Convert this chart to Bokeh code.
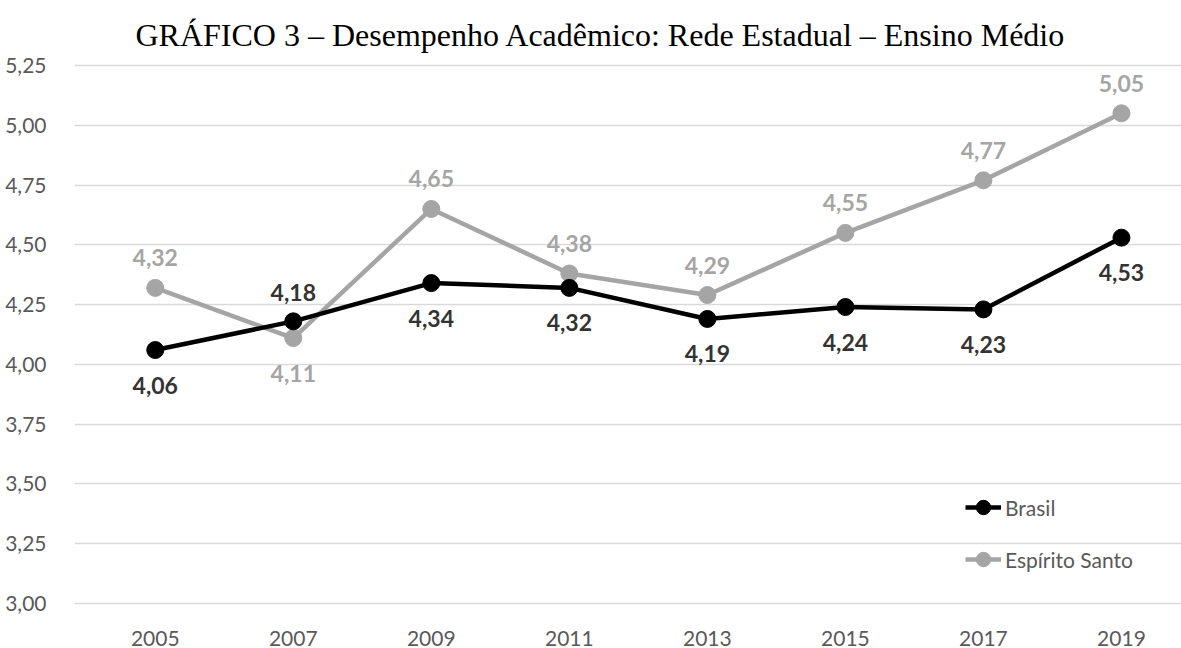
from bokeh.plotting import figure
from bokeh.models import FixedTicker, Range1d, ColumnDataSource, Legend, LegendItem
from bokeh.core.properties import value
from bokeh.embed import file_html
from bokeh.resources import INLINE

years = [2005, 2007, 2009, 2011, 2013, 2015, 2017, 2019]
brasil = [4.06, 4.18, 4.34, 4.32, 4.19, 4.24, 4.23, 4.53]
espirito_santo = [4.32, 4.11, 4.65, 4.38, 4.29, 4.55, 4.77, 5.05]
brasil_label_side = ["below", "above", "below", "below", "below", "below", "below", "below"]
es_label_side = ["above", "below", "above", "above", "above", "above", "above", "above"]
y_ticks = [3.00, 3.25, 3.50, 3.75, 4.00, 4.25, 4.50, 4.75, 5.00, 5.25]
title_text = "GRÁFICO 3 – Desempenho Acadêmico: Rede Estadual – Ensino Médio"

BLACK = "#000000"
GRAY = "#a5a5a5"
TEXT = "#595959"
FONT = "Lato"

def fmt(v):
    return f"{v:.2f}".replace(".", ",")

p = figure(width=1181, height=648, output_backend="svg", toolbar_location=None,
           x_range=Range1d(2003.83, 2019.87), y_range=Range1d(2.979, 5.271),
           min_border_left=74, min_border_right=0, min_border_top=60, min_border_bottom=40)

p.title.text = title_text
p.title.text_font = "Liberation Serif"
p.title.text_font_size = "32px"
p.title.text_font_style = "normal"
p.title.text_color = "#000000"
p.title.align = "left"
p.title.offset = 61
p.title.standoff = 16

p.outline_line_color = None
p.background_fill_color = "white"

p.xgrid.grid_line_color = None
p.ygrid.grid_line_color = "#d9d9d9"
p.ygrid.grid_line_width = 1.3
p.ygrid.ticker = FixedTicker(ticks=y_ticks)

p.yaxis.ticker = FixedTicker(ticks=y_ticks)
p.yaxis.major_label_overrides = {t: fmt(t) for t in y_ticks}
p.xaxis.ticker = FixedTicker(ticks=years)
p.xaxis.major_label_overrides = {y: str(y) for y in years}
for ax in (p.xaxis, p.yaxis):
    ax.axis_line_color = None
    ax.major_tick_line_color = None
    ax.minor_tick_line_color = None
    ax.major_label_text_font = FONT
    ax.major_label_text_font_size = "21px"
    ax.major_label_text_color = TEXT
p.yaxis.major_label_standoff = 22
p.xaxis.major_label_standoff = 16

def offsets(sides, above, below):
    return [-above if s == "above" else below for s in sides]

src_b = ColumnDataSource(dict(x=years, y=brasil, t=[fmt(v) for v in brasil],
                              off=offsets(brasil_label_side, 29, 35)))
src_e = ColumnDataSource(dict(x=years, y=espirito_santo, t=[fmt(v) for v in espirito_santo],
                              off=offsets(es_label_side, 30, 35)))

le = p.line("x", "y", source=src_e, line_color=GRAY, line_width=4.5)
se = p.scatter("x", "y", source=src_e, size=17, fill_color=GRAY, line_color=GRAY)
lb = p.line("x", "y", source=src_b, line_color=BLACK, line_width=4.5)
sb = p.scatter("x", "y", source=src_b, size=17, fill_color=BLACK, line_color=BLACK)

p.text("x", "y", text="t", source=src_e, y_offset="off", text_align="center",
       text_baseline="middle", text_font=value(FONT), text_font_style="bold",
       text_font_size="23px", text_color=GRAY)
p.text("x", "y", text="t", source=src_b, y_offset="off", text_align="center",
       text_baseline="middle", text_font=value(FONT), text_font_style="bold",
       text_font_size="23px", text_color="#333333")

legend = Legend(items=[LegendItem(label="Brasil", renderers=[lb, sb]),
                       LegendItem(label="Espírito Santo", renderers=[le, se])],
                location=(891, 31), orientation="vertical")
legend.border_line_color = None
legend.background_fill_alpha = 0
legend.padding = 0
legend.margin = 0
legend.spacing = 16
legend.glyph_width = 36
legend.glyph_height = 36
legend.label_height = 36
legend.label_standoff = 4
legend.label_text_font = FONT
legend.label_text_font_size = "21px"
legend.label_text_color = TEXT
p.add_layout(legend, "center")

open("out.html", "w").write(file_html(p, INLINE))
